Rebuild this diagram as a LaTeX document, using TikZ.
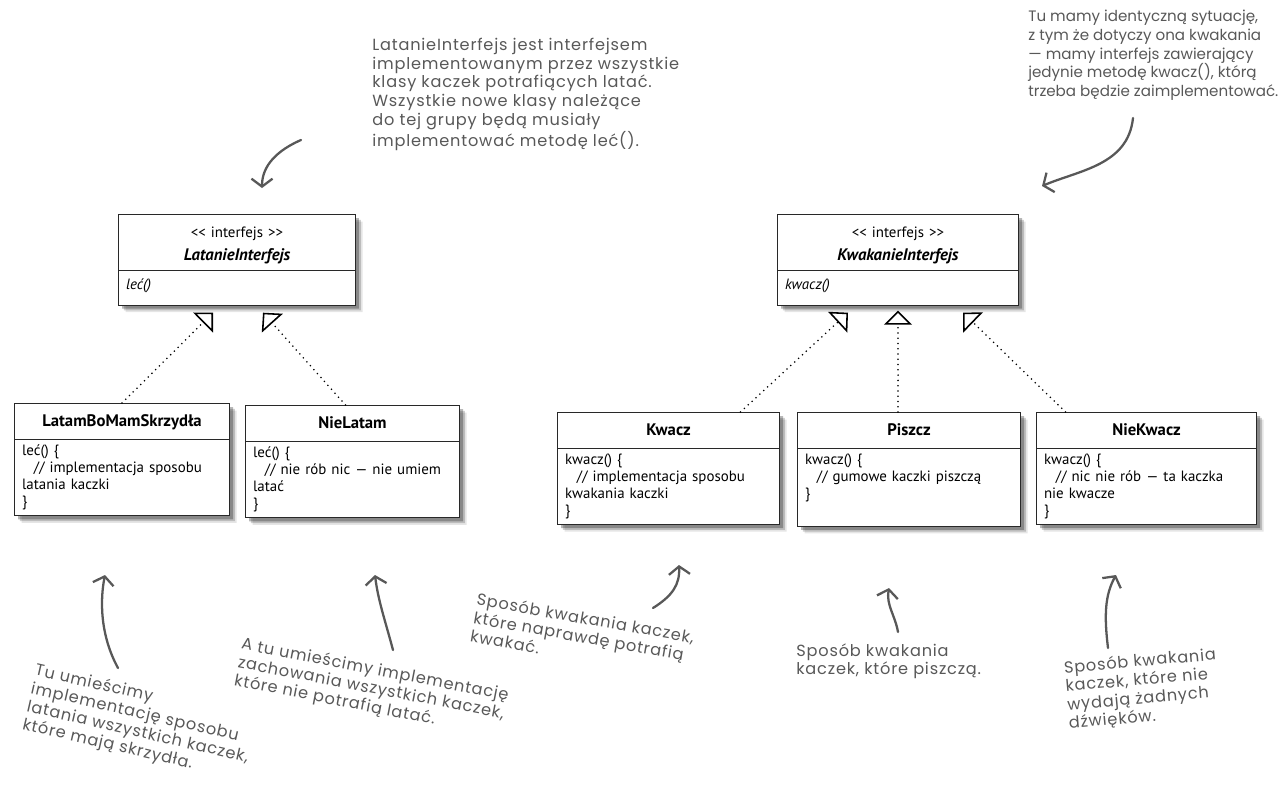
\documentclass[tikz,border=0pt]{standalone}
\usepackage{fontspec}
\setmainfont{PT Sans}
\newfontfamily\notefont[LetterSpace=5]{Poppins}
\newfontfamily\notefontnarrow{Poppins}
\usetikzlibrary{arrows.meta,positioning,shapes.multipart,shadows,calc}
\definecolor{notegray}{RGB}{88,88,88}
\definecolor{boxline}{RGB}{40,40,40}

\tikzset{
  classbox/.style={rectangle split, rectangle split parts=2, draw=boxline, line width=0.6pt,
    fill=white, anchor=north west, inner xsep=0.15cm, inner ysep=3pt, text width=#1,
    align=left, font=\fontsize{8.5}{9.6}\selectfont,
    drop shadow={shadow xshift=4pt, shadow yshift=-4pt, fill=black, opacity=0.10},
    drop shadow={shadow xshift=3pt, shadow yshift=-3pt, fill=black, opacity=0.18},
    drop shadow={shadow xshift=2pt, shadow yshift=-2pt, fill=black, opacity=0.28}},
  realize/.style={line width=1pt, line cap=round, dash pattern=on 0pt off 3pt,
    -{Triangle[open, length=8pt, width=16pt, line width=0.9pt]}},
  note/.style={font=\notefont\fontsize{9.2}{10.6}\selectfont, text=notegray, align=left,
    anchor=north west, inner sep=0pt},
  notearrow/.style={draw=notegray, line width=1.3pt, line cap=round,
    -{Straight Barb[length=4.5pt, width=12pt, line width=1.3pt]}},
}
\newcommand{\titlestrut}{\rule[-4pt]{0pt}{13.8pt}}
\newcommand{\classtitle}[1]{\makebox[\linewidth]{\titlestrut\textbf{\fontsize{9.5}{11}\selectfont #1}}}
\newcommand{\ifacetitle}[1]{\makebox[\linewidth]{\rule{0pt}{9.5pt}<\kern0pt< interfejs >\kern0pt>}\\[4pt]%
  \makebox[\linewidth]{\fontsize{9.5}{11}\selectfont\bfseries\itshape #1}}

\begin{document}
\begin{tikzpicture}[x=0.02cm, y=-0.02cm]
  \useasboundingbox (0,0) rectangle (1278,796);

  % interfaces
  \node[classbox=4.44cm] (latanie) at (118,214)
    {\ifacetitle{LatanieInterfejs}
     \nodepart{second}\rule[-5.5pt]{0pt}{13.3pt}\textit{leć()}};
  \node[classbox=4.52cm] (kwakanie) at (777,214)
    {\ifacetitle{KwakanieInterfejs}
     \nodepart{second}\rule[-5.5pt]{0pt}{13.3pt}\textit{kwacz()}};

  % flying behaviours
  \node[classbox=4.00cm] (latam) at (14,403)
    {\classtitle{LatamBoMamSkrzydła}
     \nodepart{second}leć() \{\\\hspace*{0.8em}// implementacja sposobu\\latania kaczki\\\}};
  \node[classbox=3.98cm] (nielatam) at (245,405)
    {\classtitle{NieLatam}
     \nodepart{second}leć() \{\\\hspace*{0.8em}// nie rób nic — nie umiem\\latać\\\}};

  % quacking behaviours
  \node[classbox=4.14cm] (kwacz) at (557,412)
    {\classtitle{Kwacz}
     \nodepart{second}kwacz() \{\\\hspace*{0.8em}// implementacja sposobu\\kwakania kaczki\\\}};
  \node[classbox=4.16cm] (piszcz) at (797,412)
    {\classtitle{Piszcz}
     \nodepart{second}kwacz() \{\\\hspace*{0.8em}// gumowe kaczki piszczą\\\}\\\strut};
  \node[classbox=4.10cm] (niekwacz) at (1036,412)
    {\classtitle{NieKwacz}
     \nodepart{second}kwacz() \{\\\hspace*{0.8em}// nic nie rób — ta kaczka\\nie kwacze\\\}};

  % realizations
  \draw[realize] (latam.north) -- ($(latanie.south)+(-24,7)$);
  \draw[realize] ($(nielatam.north)+(-7,0)$) -- ($(latanie.south)+(26,7)$);
  \draw[realize] ($(kwacz.north)+(72,0)$) -- ($(kwakanie.south)+(-50,7)$);
  \draw[realize] (piszcz.north -| kwakanie.south) -- ($(kwakanie.south)+(0,5)$);
  \draw[realize] ($(niekwacz.north)+(-81,0)$) -- ($(kwakanie.south)+(65,7)$);

  % notes
  \node[note] (flynote) at (372,38) {LatanieInterfejs jest interfejsem\\implementowanym przez wszystkie\\klasy kaczek potrafiących latać.\\Wszystkie nowe klasy należące\\do tej grupy będą musiały\\implementować metodę leć().};
  \node[note, font=\notefontnarrow\fontsize{8.6}{10.6}\selectfont] (quacknote) at (1028,10) {Tu mamy identyczną sytuację,\\z tym że dotyczy ona kwakania\\— mamy interfejs zawierający\\jedynie metodę kwacz(), którą\\trzeba będzie zaimplementować.};
  \node[note, rotate=-13] (wingnote) at (37,662) {Tu umieścimy\\implementację sposobu\\latania wszystkich kaczek,\\które mają skrzydła.};
  \node[note, rotate=-11] (noflynote) at (243,636) {A tu umieścimy implementację\\zachowania wszystkich kaczek,\\które nie potrafią latać.};
  \node[note, rotate=-10] (realnote) at (478,592) {Sposób kwakania kaczek,\\które naprawdę potrafią\\kwakać.};
  \node[note] (squeaknote) at (796,643) {Sposób kwakania\\kaczek, które piszczą.};
  \node[note, rotate=5] (mutenote) at (1063,660) {Sposób kwakania\\kaczek, które nie\\wydają żadnych\\dźwięków.};

  % note arrows
  \coordinate (flyS) at (301,140);   \coordinate (flyE) at (262,188);
  \coordinate (quackS) at (1133,118); \coordinate (quackE) at (1042,186);
  \coordinate (wingS) at (118,668);  \coordinate (wingE) at (105,575);
  \coordinate (noflyS) at (393,650); \coordinate (noflyE) at (375,575);
  \coordinate (realS) at (653,608);  \coordinate (realE) at (679,565);
  \coordinate (squeakS) at (898,632); \coordinate (squeakE) at (889,588);
  \coordinate (muteS) at (1108,648); \coordinate (muteE) at (1116,575);
  \draw[notearrow] (flyS) .. controls (278,150) and (262,165) .. (flyE);
  \draw[notearrow] (quackS) .. controls (1128,165) and (1080,170) .. (quackE);
  \draw[notearrow] (wingS) .. controls (100,635) and (100,600) .. (wingE);
  \draw[notearrow] (noflyS) .. controls (385,620) and (378,600) .. (noflyE);
  \draw[notearrow] (realS) .. controls (672,596) and (680,585) .. (realE);
  \draw[notearrow] (squeakS) .. controls (895,615) and (886,605) .. (squeakE);
  \draw[notearrow] (muteS) .. controls (1104,615) and (1105,595) .. (muteE);
\end{tikzpicture}
\end{document}
